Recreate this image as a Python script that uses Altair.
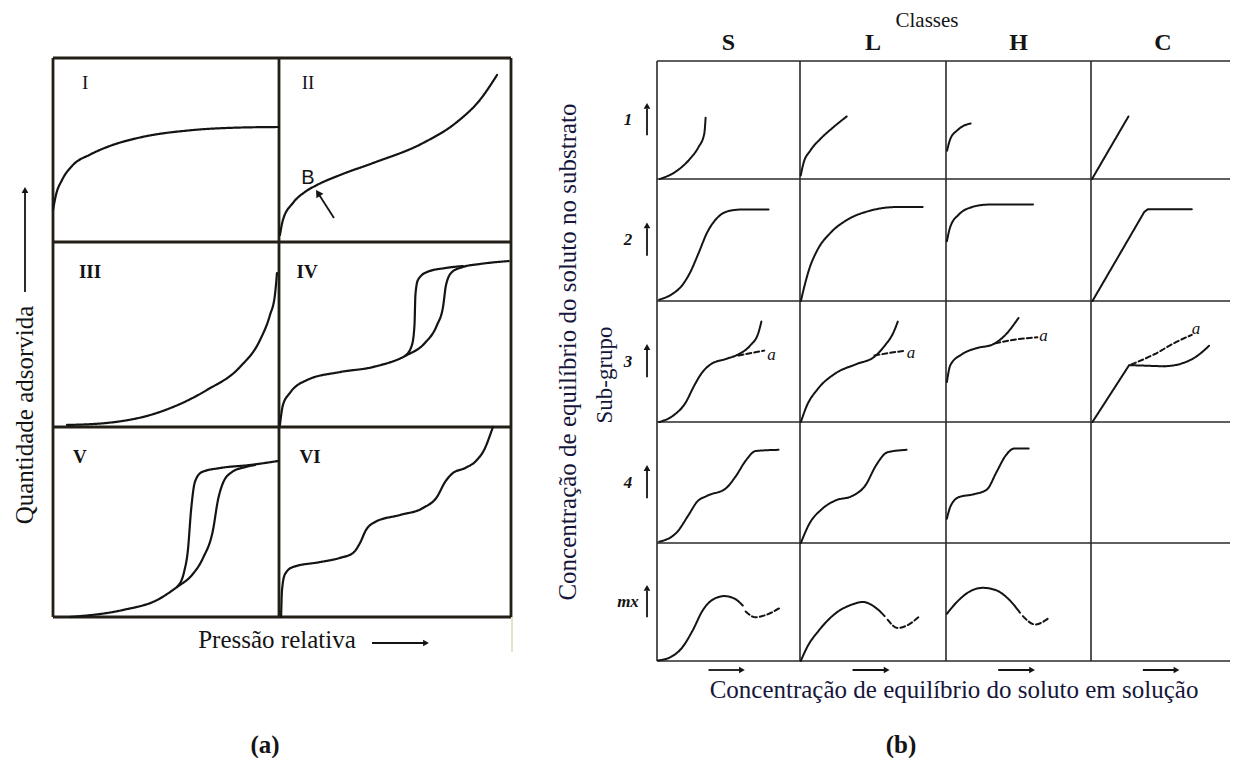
import altair as alt
import pandas as pd

# ======================= DATA =======================
# Panel (a): IUPAC isotherm types I-VI, cell-local coordinates
# u = relative pressure (0 left .. 1 right), v = amount adsorbed (0 bottom .. 1 top)
a_I_u = [0.0, 0.013, 0.04, 0.088, 0.164, 0.239, 0.385, 0.606, 0.827, 1.0]
a_I_v = [0.174, 0.255, 0.337, 0.418, 0.475, 0.516, 0.568, 0.607, 0.622, 0.625]
a_II_u = [0.004, 0.017, 0.06, 0.112, 0.164, 0.263, 0.405, 0.621, 0.767, 0.866, 0.94]
a_II_v = [0.038, 0.12, 0.212, 0.272, 0.31, 0.364, 0.429, 0.538, 0.652, 0.772, 0.908]
a_III_u = [0.062, 0.239, 0.46, 0.681, 0.827, 0.916, 0.96, 0.982, 0.991]
a_III_v = [0.011, 0.022, 0.076, 0.2, 0.324, 0.47, 0.605, 0.714, 0.832]
a_IVads_u = [0.004, 0.017, 0.047, 0.121, 0.263, 0.405, 0.552, 0.629, 0.681, 0.707, 0.72, 0.746, 0.793, 0.866, 0.99]
a_IVads_v = [0.011, 0.119, 0.184, 0.254, 0.297, 0.324, 0.389, 0.454, 0.551, 0.649, 0.768, 0.838, 0.865, 0.881, 0.897]
a_IVdes_u = [0.543, 0.573, 0.584, 0.588, 0.599, 0.638, 0.716, 0.793]
a_IVdes_v = [0.384, 0.443, 0.551, 0.714, 0.795, 0.838, 0.859, 0.87]
a_Vads_u = [0.075, 0.31, 0.46, 0.549, 0.615, 0.664, 0.708, 0.73, 0.752, 0.792, 0.85, 0.894]
a_Vads_v = [0.0, 0.037, 0.089, 0.158, 0.221, 0.311, 0.458, 0.616, 0.705, 0.763, 0.789, 0.8]
a_Vdes_u = [0.549, 0.58, 0.597, 0.611, 0.628, 0.659, 0.739, 0.872, 0.996]
a_Vdes_v = [0.158, 0.237, 0.353, 0.563, 0.711, 0.763, 0.784, 0.8, 0.821]
a_VI_u = [0.009, 0.013, 0.026, 0.06, 0.177, 0.263, 0.319, 0.349, 0.375, 0.414, 0.522, 0.621,
          0.681, 0.716, 0.75, 0.802, 0.853, 0.888, 0.91, 0.922]
a_VI_v = [0.0, 0.142, 0.226, 0.263, 0.289, 0.311, 0.337, 0.389, 0.458, 0.5, 0.537, 0.574,
          0.632, 0.711, 0.758, 0.784, 0.826, 0.889, 0.958, 1.0]
a_labels = ["I", "II", "III", "IV", "V", "VI"]
a_label_u = [0.142, 0.125, 0.164, 0.121, 0.119, 0.134]
a_label_v = [0.864, 0.864, 0.838, 0.838, 0.842, 0.842]

# Panel (b): Giles classes S, L, H, C and sub-groups 1, 2, 3, 4, mx
b_classes = ["S", "L", "H", "C"]
b_subgroups = ["1", "2", "3", "4", "mx"]

b_S1_u = [0.02, 0.14, 0.23, 0.29, 0.33, 0.34]
b_S1_v = [0.0, 0.07, 0.17, 0.27, 0.38, 0.52]
b_L1_u = [0.005, 0.023, 0.07, 0.14, 0.22, 0.32]
b_L1_v = [0.03, 0.13, 0.24, 0.34, 0.43, 0.53]
b_H1_u = [0.007, 0.03, 0.076, 0.12, 0.17]
b_H1_v = [0.24, 0.34, 0.41, 0.45, 0.47]
b_C1_u = [0.007, 0.26]
b_C1_v = [0.0, 0.53]

b_S2_u = [0.015, 0.11, 0.17, 0.23, 0.29, 0.35, 0.42, 0.51, 0.6, 0.78]
b_S2_v = [0.01, 0.06, 0.12, 0.23, 0.39, 0.56, 0.68, 0.74, 0.75, 0.75]
b_L2_u = [0.006, 0.03, 0.06, 0.12, 0.21, 0.33, 0.48, 0.66, 0.84]
b_L2_v = [0.0, 0.12, 0.25, 0.42, 0.56, 0.67, 0.74, 0.77, 0.77]
b_H2_u = [0.006, 0.03, 0.09, 0.18, 0.29, 0.6]
b_H2_v = [0.49, 0.61, 0.71, 0.77, 0.79, 0.79]
b_C2_u = [0.01, 0.37, 0.395, 0.70]
b_C2_v = [0.0, 0.73, 0.752, 0.752]

b_S3_u = [0.015, 0.11, 0.2, 0.26, 0.31, 0.38, 0.48, 0.57, 0.65, 0.71, 0.73]
b_S3_v = [0.0, 0.05, 0.16, 0.3, 0.4, 0.48, 0.52, 0.56, 0.63, 0.74, 0.83]
b_S3a_u = [0.57, 0.66, 0.75]
b_S3a_v = [0.55, 0.57, 0.59]
b_L3_u = [0.006, 0.045, 0.12, 0.24, 0.39, 0.51, 0.58, 0.64, 0.67]
b_L3_v = [0.0, 0.13, 0.27, 0.4, 0.48, 0.54, 0.63, 0.74, 0.83]
b_L3a_u = [0.51, 0.61, 0.72]
b_L3a_v = [0.55, 0.57, 0.59]
b_H3_u = [0.006, 0.03, 0.11, 0.21, 0.32, 0.41, 0.5]
b_H3_v = [0.33, 0.47, 0.56, 0.61, 0.64, 0.72, 0.86]
b_H3a_u = [0.34, 0.47, 0.63]
b_H3a_v = [0.65, 0.68, 0.7]
b_C3line_u = [0.01, 0.265, 0.51]
b_C3line_v = [0.0, 0.47, 0.46]
b_C3_u = [0.51, 0.62, 0.73, 0.82]
b_C3_v = [0.46, 0.48, 0.54, 0.63]
b_C3a_u = [0.28, 0.44, 0.59, 0.70]
b_C3a_v = [0.475, 0.56, 0.66, 0.72]
b_a_u = [0.80, 0.76, 0.673, 0.73]
b_a_v = [0.556, 0.57, 0.708, 0.77]

b_S4_u = [0.015, 0.14, 0.22, 0.28, 0.35, 0.48, 0.55, 0.62, 0.69, 0.85]
b_S4_v = [0.01, 0.09, 0.23, 0.34, 0.39, 0.45, 0.55, 0.68, 0.76, 0.77]
b_L4_u = [0.006, 0.06, 0.15, 0.24, 0.36, 0.45, 0.52, 0.6, 0.73]
b_L4_v = [0.0, 0.15, 0.28, 0.35, 0.39, 0.48, 0.64, 0.75, 0.77]
b_H4_u = [0.006, 0.03, 0.09, 0.18, 0.28, 0.35, 0.41, 0.47, 0.57]
b_H4_v = [0.2, 0.3, 0.38, 0.4, 0.44, 0.59, 0.72, 0.78, 0.78]

b_S5_u = [0.007, 0.09, 0.18, 0.25, 0.32, 0.39, 0.47, 0.54, 0.6]
b_S5_v = [0.005, 0.03, 0.12, 0.26, 0.43, 0.52, 0.55, 0.53, 0.47]
b_S5d_u = [0.62, 0.69, 0.76, 0.86]
b_S5d_v = [0.42, 0.37, 0.39, 0.45]
b_L5_u = [0.005, 0.05, 0.13, 0.25, 0.36, 0.43, 0.52, 0.58]
b_L5_v = [0.0, 0.12, 0.26, 0.41, 0.48, 0.5, 0.45, 0.38]
b_L5d_u = [0.6, 0.67, 0.73, 0.82]
b_L5d_v = [0.35, 0.28, 0.3, 0.38]
b_H5_u = [0.006, 0.075, 0.165, 0.255, 0.345, 0.435, 0.51]
b_H5_v = [0.4, 0.5, 0.59, 0.62, 0.6, 0.52, 0.41]
b_H5d_u = [0.53, 0.615, 0.705]
b_H5d_v = [0.38, 0.31, 0.36]

# ======================= LAYOUT (page pixels) =======================
W, H = 1222, 750
A_COLS = [53, 279, 511]
A_ROWS = [58, 242, 427, 617]
B_COLS = [657, 800, 946, 1091, 1235]
B_ROWS = [61, 179, 301, 422, 543, 661]

def place(cols, rows, c, r, u, v):
    x0, x1 = cols[c], cols[c + 1]
    y0, y1 = rows[r], rows[r + 1]
    return x0 + u * (x1 - x0), y1 - v * (y1 - y0)

def add_curves(rows_out, cols, rws, series):
    for sid, c, r, us, vs, style in series:
        for i, (u, v) in enumerate(zip(us, vs)):
            x, y = place(cols, rws, c, r, u, v)
            rows_out.append(dict(x=x, y=y, sid=sid, ord=i, style=style))

a_series = [
    ("I", 0, 0, a_I_u, a_I_v, "solid"), ("II", 1, 0, a_II_u, a_II_v, "solid"),
    ("III", 0, 1, a_III_u, a_III_v, "solid"), ("IVa", 1, 1, a_IVads_u, a_IVads_v, "solid"),
    ("IVd", 1, 1, a_IVdes_u, a_IVdes_v, "solid"), ("Va", 0, 2, a_Vads_u, a_Vads_v, "solid"),
    ("Vd", 0, 2, a_Vdes_u, a_Vdes_v, "solid"), ("VI", 1, 2, a_VI_u, a_VI_v, "solid"),
]
b_series_cr = [
    ("S1", 0, 0, b_S1_u, b_S1_v, "solid"), ("L1", 1, 0, b_L1_u, b_L1_v, "solid"),
    ("H1", 2, 0, b_H1_u, b_H1_v, "solid"),
    ("S2", 0, 1, b_S2_u, b_S2_v, "solid"), ("L2", 1, 1, b_L2_u, b_L2_v, "solid"),
    ("H2", 2, 1, b_H2_u, b_H2_v, "solid"),
    ("S3", 0, 2, b_S3_u, b_S3_v, "solid"), ("S3a", 0, 2, b_S3a_u, b_S3a_v, "dash"),
    ("L3", 1, 2, b_L3_u, b_L3_v, "solid"), ("L3a", 1, 2, b_L3a_u, b_L3a_v, "dash"),
    ("H3", 2, 2, b_H3_u, b_H3_v, "solid"), ("H3a", 2, 2, b_H3a_u, b_H3a_v, "dash"),
    ("C3", 3, 2, b_C3_u, b_C3_v, "solid"), ("C3a", 3, 2, b_C3a_u, b_C3a_v, "dash"),
    ("S4", 0, 3, b_S4_u, b_S4_v, "solid"), ("L4", 1, 3, b_L4_u, b_L4_v, "solid"),
    ("H4", 2, 3, b_H4_u, b_H4_v, "solid"),
    ("S5", 0, 4, b_S5_u, b_S5_v, "solid"), ("S5d", 0, 4, b_S5d_u, b_S5d_v, "dash"),
    ("L5", 1, 4, b_L5_u, b_L5_v, "solid"), ("L5d", 1, 4, b_L5d_u, b_L5d_v, "dash"),
    ("H5", 2, 4, b_H5_u, b_H5_v, "solid"), ("H5d", 2, 4, b_H5d_u, b_H5d_v, "dash"),
]
b_series_lin = [
    ("C1", 3, 0, b_C1_u, b_C1_v, "solid"), ("C2", 3, 1, b_C2_u, b_C2_v, "solid"),
    ("C3l", 3, 2, b_C3line_u, b_C3line_v, "solid"),
]

rows_a, rows_bc, rows_bl = [], [], []
add_curves(rows_a, A_COLS, A_ROWS, a_series)
add_curves(rows_bc, B_COLS, B_ROWS, b_series_cr)
add_curves(rows_bl, B_COLS, B_ROWS, b_series_lin)
df_a = pd.DataFrame(rows_a)
df_bc = pd.DataFrame(rows_bc)
df_bl = pd.DataFrame(rows_bl)

XS = alt.Scale(domain=[8, 8 + W], nice=False, zero=False)
YS = alt.Scale(domain=[8, 8 + H], nice=False, zero=False, reverse=True)
X = alt.X("x:Q", scale=XS, axis=None)
Y = alt.Y("y:Q", scale=YS, axis=None)
DASH = alt.StrokeDash("style:N", scale=alt.Scale(domain=["solid", "dash"], range=[[1, 0], [5, 3]]), legend=None)

INK = "#141414"

def curve_layer(df, interp, width):
    return alt.Chart(df).mark_line(interpolate=interp, strokeWidth=width, color=INK,
                                   strokeCap="round").encode(
        x=X, y=Y, detail="sid:N", order="ord:Q", strokeDash=DASH)

# ---- frame lines
def seg_df(segs):
    return pd.DataFrame([dict(x=a, y=b, x2=c, y2=d) for a, b, c, d in segs])

a_segs = [(x, A_ROWS[0], x, A_ROWS[-1]) for x in A_COLS] + \
         [(A_COLS[0], y, A_COLS[-1], y) for y in A_ROWS]
b_segs = [(x, B_ROWS[0], x, B_ROWS[-1]) for x in B_COLS] + \
         [(B_COLS[0], y, B_COLS[-1], y) for y in B_ROWS]

def rule_layer(df, width, color):
    return alt.Chart(df).mark_rule(strokeWidth=width, color=color).encode(
        x=X, y=Y, x2="x2:Q", y2="y2:Q")

frame_a = rule_layer(seg_df(a_segs), 2.8, "#231f16")
frame_b = rule_layer(seg_df(b_segs), 1.6, "#2a2a2a")
edge_a = rule_layer(seg_df([(512, A_ROWS[-1], 512, 652)]), 1.2, "#d9cfa6")

# ---- arrows
ax_tail = place(A_COLS, A_ROWS, 1, 0, 0.237, 0.13)
ax_head = place(A_COLS, A_ROWS, 1, 0, 0.168, 0.266)
arrow_segs = [(ax_tail[0], ax_tail[1], ax_head[0], ax_head[1]),
              (372, 643, 424, 643),          # "Pressão relativa" arrow
              (25, 292, 25, 192)]            # "Quantidade adsorvida" arrow
up_heads, right_heads = [(25, 190)], [(426, 643)]
for r in range(5):
    _, ylo = place(B_COLS, B_ROWS, 0, r, 0, 0.37)
    _, yhi = place(B_COLS, B_ROWS, 0, r, 0, 0.62)
    arrow_segs.append((647, ylo, 647, yhi + 3))
    up_heads.append((647, yhi))
for c in range(4):
    xlo, _ = place(B_COLS, B_ROWS, c, 4, 0.36, 0)
    xhi, _ = place(B_COLS, B_ROWS, c, 4, 0.58, 0)
    arrow_segs.append((xlo, 670, xhi, 670))
    right_heads.append((xhi + 2, 670))

arrows = rule_layer(seg_df(arrow_segs), 1.8, INK)
def head_layer(pts, shape, angle, size):
    df = pd.DataFrame([dict(x=a, y=b) for a, b in pts])
    return alt.Chart(df).mark_point(shape=shape, filled=True, size=size, color=INK,
                                    opacity=1, angle=angle, strokeWidth=0).encode(x=X, y=Y)
heads = [head_layer(up_heads, "triangle-up", 0, 45),
         head_layer(right_heads, "triangle-right", 0, 45),
         head_layer([ax_head], "triangle-up", 327, 70)]

# ---- texts
def text_layer(items, **kw):
    df = pd.DataFrame([dict(x=a, y=b, t=t) for t, a, b in items])
    base = dict(font="Liberation Serif", color=INK, align="center", baseline="middle")
    base.update(kw)
    return alt.Chart(df).mark_text(**base).encode(x=X, y=Y, text="t:N")

roman = []
for i, lab in enumerate(a_labels):
    c, r = i % 2, i // 2
    x, y = place(A_COLS, A_ROWS, c, r, a_label_u[i], a_label_v[i])
    roman.append((lab, x, y))

bx, by = place(A_COLS, A_ROWS, 1, 0, 0.125, 0.348)
class_items = [(cl, (B_COLS[i] + B_COLS[i + 1]) / 2, 43) for i, cl in enumerate(b_classes)]
sub_items = []
for r, sg in enumerate(b_subgroups):
    _, y = place(B_COLS, B_ROWS, 0, r, 0, 0.5)
    sub_items.append((sg, 628, y))
a_items = []
for c in range(4):
    x, y = place(B_COLS, B_ROWS, c, 2, b_a_u[c], b_a_v[c])
    a_items.append(("a", x, y))

NAVY = "#16163a"
texts = [
    text_layer(roman[:2], fontSize=19),
    text_layer(roman[2:], fontSize=19, fontWeight="bold"),
    text_layer([("B", bx, by)], font="Liberation Sans", fontSize=20),
    text_layer([("Pressão relativa", 277, 640)], fontSize=25),
    text_layer([("Quantidade adsorvida", 25, 415)], fontSize=25, angle=270),
    text_layer([("Classes", 927, 21)], fontSize=21),
    text_layer(class_items, fontSize=24, fontWeight="bold"),
    text_layer(sub_items, fontSize=17, fontStyle="italic", fontWeight="bold"),
    text_layer(a_items, fontSize=17, fontStyle="italic"),
    text_layer([("Sub-grupo", 605, 375)], fontSize=23, angle=270, color=NAVY),
    text_layer([("Concentração de equilíbrio do soluto no substrato", 568, 352)],
               fontSize=25, angle=270, color=NAVY),
    text_layer([("Concentração de equilíbrio do soluto em solução", 954, 690)],
               fontSize=25, color=NAVY),
    text_layer([("(a)", 265, 745), ("(b)", 901, 745)], fontSize=25, fontWeight="bold"),
]

chart = alt.layer(
    frame_a, frame_b, edge_a,
    curve_layer(df_a, "monotone", 2.2),
    curve_layer(df_bc, "monotone", 2.0),
    curve_layer(df_bl, "linear", 2.0),
    arrows, *heads, *texts,
).properties(
    width=W, height=H, padding=0, background="white",
    autosize=alt.AutoSizeParams(type="none"),
).configure_view(stroke=None)

chart.save("out.html", embed_options={"renderer": "svg", "actions": False})
